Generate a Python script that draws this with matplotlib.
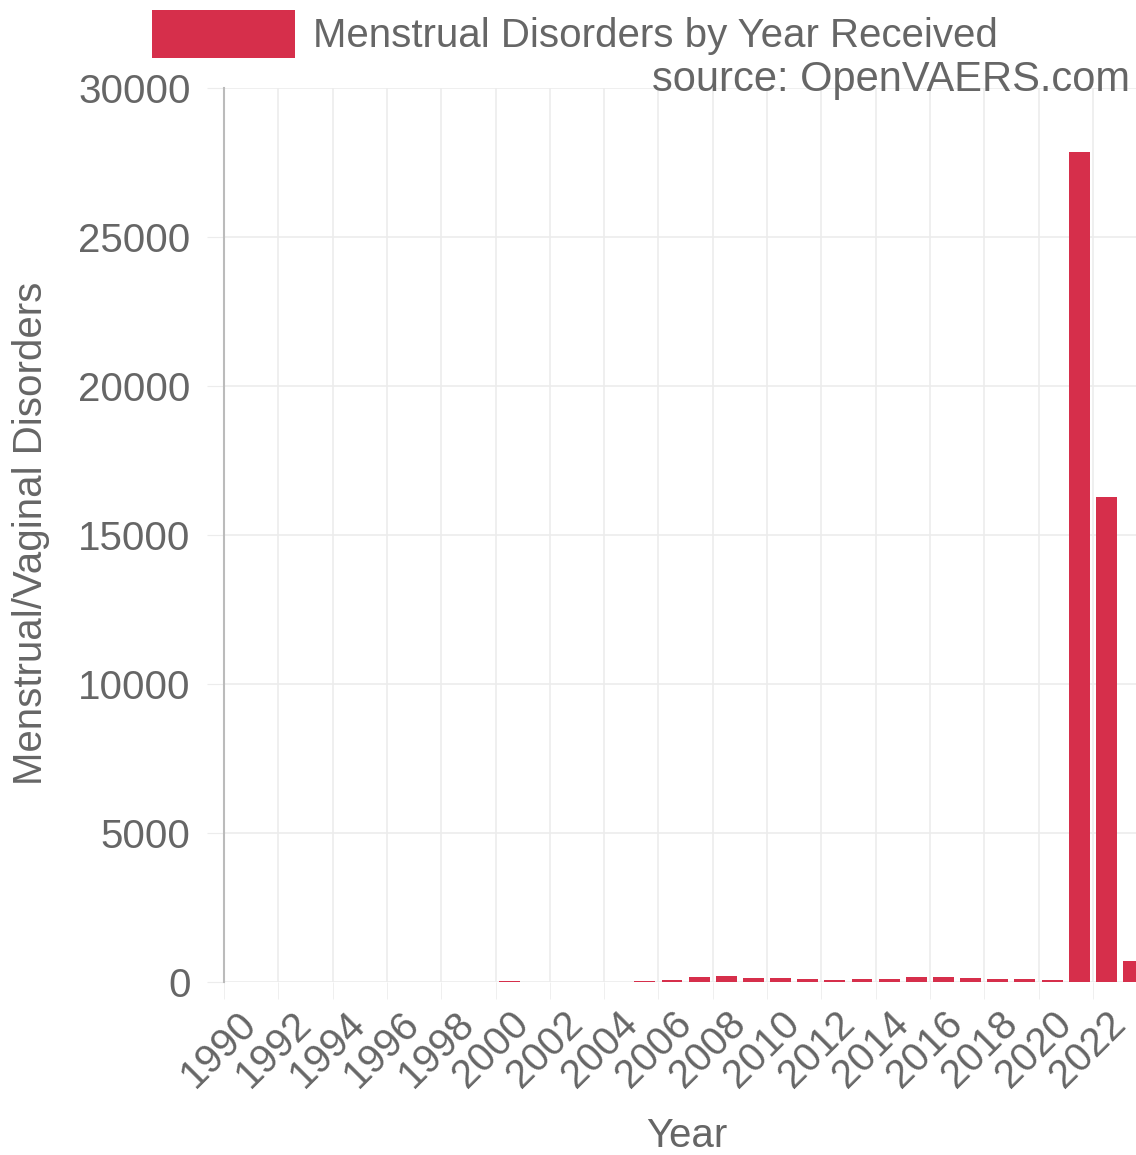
import matplotlib
matplotlib.use("Agg")
import matplotlib.pyplot as plt

years = list(range(1990, 2024))
counts = [10, 12, 15, 10, 14, 12, 15, 12, 14, 12, 25, 10, 12, 14, 15, 30,
          60, 170, 200, 140, 140, 110, 60, 110, 110, 180, 180, 120, 110, 110,
          60, 27860, 16270, 700]
tick_years = list(range(1990, 2023, 2))
yticks = [0, 5000, 10000, 15000, 20000, 25000, 30000]

bar_color = "#d62f4b"
text_color = "#666666"
grid_color = "#ececec"

plt.rcParams["font.family"] = ["Liberation Sans", "DejaVu Sans"]
FS = 29

W, H = 1136, 1155
fig = plt.figure(figsize=(W / 100, H / 100), dpi=100)
fig.patch.set_facecolor("white")

ax_left = 224 / W
ax_bottom = 1 - 982 / H
ax_height = 894 / H
ax_wpx = 35 * 27.15
ax_width = ax_wpx / W
ax = fig.add_axes([ax_left, ax_bottom, ax_width, ax_height])

ax.bar(years, counts, width=0.77, color=bar_color,
       label="Menstrual Disorders by Year Received", zorder=3)

ax.set_xlim(1989.5, 2024.5)
ax.set_ylim(0, 30000)
ax.set_yticks(yticks)
ax.set_yticklabels([str(v) for v in yticks])
ax.set_xticks(tick_years)
ax.set_xticklabels([str(y) for y in tick_years], rotation=45, ha="right",
                   va="top", rotation_mode="anchor")

# grid lines: vertical ones at category boundaries every 2 years
ax.set_xticks([y - 0.5 for y in tick_years], minor=True)
ax.grid(True, which="minor", axis="x", color=grid_color, linewidth=1.2, zorder=0)
ax.grid(True, which="major", axis="y", color=grid_color, linewidth=1.2, zorder=0)
ax.grid(False, which="major", axis="x")

ax.tick_params(axis="y", which="major", length=12, color=grid_color,
               labelsize=FS, labelcolor=text_color, pad=12)
ax.tick_params(axis="x", which="major", length=0, labelsize=FS,
               labelcolor=text_color, pad=16)
ax.tick_params(axis="x", which="minor", length=12, color=grid_color)

for s in ["top", "right", "bottom"]:
    ax.spines[s].set_visible(False)
ax.spines["left"].set_color("#bbbbbb")
ax.spines["left"].set_linewidth(1.5)

ax.set_ylabel("Menstrual/Vaginal Disorders", fontsize=FS, color=text_color)
ax.yaxis.set_label_coords(-(224 - 50) / ax_wpx, (982 - 533) / 894)
ax.set_xlabel("Year", fontsize=FS, color=text_color)
ax.xaxis.set_label_coords((687 - 224) / ax_wpx, -0.1515)

leg = fig.legend(loc="upper left", bbox_to_anchor=(152 / W, 1 - 10 / H),
                 frameon=False, fontsize=FS, handlelength=3.55,
                 handleheight=1.45, handletextpad=0.45, borderpad=0,
                 borderaxespad=0, labelcolor=text_color)

fig.text(1130 / W, 1 - 80 / H, "source: OpenVAERS.com", ha="right",
         va="center", fontsize=FS + 1, color=text_color)

fig.savefig("out.png", dpi=100)
